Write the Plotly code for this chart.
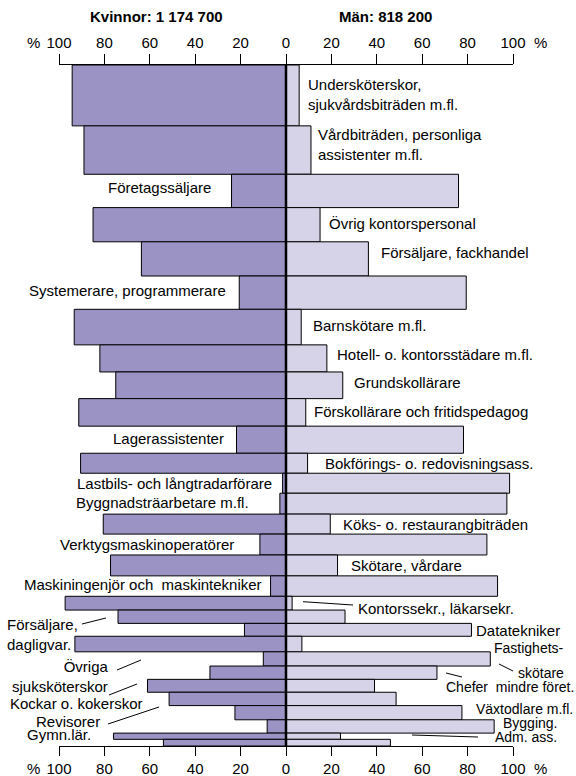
import numpy as np
import plotly.graph_objects as go

# De 30 största yrkena, andel kvinnor och män (%)
yrken = [
    "Undersköterskor,<br>sjukvårdsbiträden m.fl.",
    "Vårdbiträden, personliga<br>assistenter m.fl.",
    "Företagssäljare",
    "Övrig kontorspersonal",
    "Försäljare, fackhandel",
    "Systemerare, programmerare",
    "Barnskötare m.fl.",
    "Hotell- o. kontorsstädare m.fl.",
    "Grundskollärare",
    "Förskollärare och fritidspedagog",
    "Lagerassistenter",
    "Bokförings- o. redovisningsass.",
    "Lastbils- och långtradarförare",
    "Byggnadsträarbetare m.fl.",
    "Köks- o. restaurangbiträden",
    "Verktygsmaskinoperatörer",
    "Skötare, vårdare",
    "Maskiningenjör och  maskintekniker",
    "Kontorssekr., läkarsekr.",
    "Försäljare,<br>dagligvar.",
    "Datatekniker",
    "Övriga<br>sjuksköterskor",
    "Fastighets-<br>skötare",
    "Chefer  mindre föret.",
    "Kockar o. kokerskor",
    "Revisorer",
    "Växtodlare m.fl.",
    "Bygging.",
    "Adm. ass.",
    "Gymn.lär.",
]
kvinnor = [94.2, 89, 24, 85, 63.7, 20.6, 93.3, 82, 75, 91.3, 21.8, 90.5, 1.5, 2.7, 80.5,
           11.5, 77.3, 6.8, 97.3, 74, 18.3, 93, 10, 33.5, 61, 51.5, 22.5, 8.3, 76, 54]
man = [5.8, 11, 76, 15, 36.3, 79.4, 6.7, 18, 25, 8.7, 78.2, 9.5, 98.5, 97.3, 19.5,
       88.5, 22.7, 93.2, 2.7, 26, 81.7, 7, 90, 66.5, 39, 48.5, 77.5, 91.7, 24, 46]
# antal sysselsatta, tusental (styr stapelns tjocklek)
antal = [137, 109, 75, 77, 77, 75, 80, 61, 60, 62, 61, 45, 45, 47, 45, 47, 47, 46,
         31, 30, 29, 35, 32, 30, 29, 30, 32, 30, 14, 15]

ticks = [-100, -80, -60, -40, -20, 0, 20, 40, 60, 80, 100]
tick_text = ["100", "80", "60", "40", "20", "0", "20", "40", "60", "80", "100"]

FONT = "Liberation Sans, Arial, sans-serif"
FS = 15
W, H = 576, 776
L, R, T, B = 59, 63, 65, 30
pw = W - L - R
ph = H - T - B

antal = np.array(antal, dtype=float)
slut = np.cumsum(antal)
mitt = slut - antal / 2
total = slut[-1]


def paper(x, y):
    return (x - L) / pw, 1 - (y - T) / ph


fig = go.Figure()
fig.add_trace(go.Bar(
    y=mitt, x=[-v for v in kvinnor], width=antal, orientation="h",
    marker=dict(color="#9b93c4", line=dict(color="black", width=1)),
    hovertext=[y.replace("<br>", " ") for y in yrken], name="Kvinnor"))
fig.add_trace(go.Bar(
    y=mitt, x=man, width=antal, orientation="h",
    marker=dict(color="#d6d2e8", line=dict(color="black", width=1)),
    hovertext=[y.replace("<br>", " ") for y in yrken], name="Män"))
# osynlig trace för övre axeln
fig.add_trace(go.Scatter(x=[0], y=[0], xaxis="x2", mode="markers",
                         marker=dict(opacity=0), showlegend=False, hoverinfo="skip"))

# etiketter vid staplarna (sida, xshift, yshift)
placering = [
    ("r", 8, 1), ("r", 6, 6), ("l", -20, 3), ("r", 8, 1), ("r", 12, 6),
    ("l", -12, 2), ("r", 11, 2), ("r", 9, 4), ("r", 10, 3), ("r", 7, 1),
    ("l", -12, 1), ("r", 16, 0), ("l", -10, 0), ("l", -30, 1), ("r", 12, 0),
    ("l", -25, 0), ("r", 12, 0), ("l", -8, 2),
]
ann = []
for i, (sida, dx, dy) in enumerate(placering):
    if sida == "r":
        ann.append(dict(x=man[i], y=mitt[i], text=yrken[i], xanchor="left",
                        xshift=dx, yshift=dy, align="left"))
    else:
        ann.append(dict(x=-kvinnor[i], y=mitt[i], text=yrken[i], xanchor="right",
                        xshift=dx, yshift=dy, align="right"))

# trånga etiketter längst ner: (yrke, radbit, x px, y px, ankare, storlek)
fria = [
    (18, None, 357, 608, "left", 15), (19, None, 6, 634, "left", 15),
    (20, None, 475, 630, "left", 15), (21, None, 110, 676, "right", 15),
    (22, 0, 565, 648, "right", 14), (22, 1, 565, 673, "right", 14),
    (23, None, 575, 687, "right", 14), (24, None, 9, 703, "left", 15),
    (25, None, 35, 721, "left", 15), (26, None, 574, 709, "right", 14),
    (27, None, 558, 723, "right", 14), (28, None, 558, 737, "right", 14),
    (29, None, 26, 734, "left", 15),
]
for i, del_, x, y, anc, fs in fria:
    txt = yrken[i] if del_ is None else yrken[i].split("<br>")[del_]
    px_, py_ = paper(x, y)
    ann.append(dict(x=px_, y=py_, xref="paper", yref="paper", text=txt,
                    xanchor=anc, align=anc, yanchor="middle",
                    font=dict(family=FONT, size=fs, color="black")))

for a in ann:
    a.setdefault("xref", "x")
    a.setdefault("yref", "y")
    a.setdefault("font", dict(family=FONT, size=FS, color="black"))
    a["showarrow"] = False
    a["borderpad"] = 0

# rubriker och procenttecken
for txt, x, y in [("<b>Kvinnor: 1 174 700</b>", 156, 17), ("<b>Män: 818 200</b>", 385, 17),
                  ("%", 33, 43), ("%", 540, 43), ("%", 33, 768), ("%", 540, 768)]:
    px_, py_ = paper(x, y)
    ann.append(dict(x=px_, y=py_, xref="paper", yref="paper", text=txt, showarrow=False,
                    xanchor="center", yanchor="middle",
                    font=dict(family=FONT, size=FS, color="black")))

# ledarlinjer
linjer = [
    (303, 601.7, 353, 605), (82, 624, 106, 618), (117, 670, 141, 660),
    (109, 695, 137, 684), (108, 724, 159, 707), (499, 664, 513, 671),
    (446, 673, 462, 677), (412, 735, 478, 737),
]
shapes = []
for x0, y0, x1, y1 in linjer:
    a0, b0 = paper(x0, y0)
    a1, b1 = paper(x1, y1)
    shapes.append(dict(type="line", xref="paper", yref="paper", x0=a0, y0=b0, x1=a1, y1=b1,
                       line=dict(color="black", width=1)))
shapes.append(dict(type="line", xref="x", yref="paper", x0=0, x1=0, y0=0, y1=1,
                   line=dict(color="black", width=2.5)))

axel = dict(range=[-100, 100], tickvals=ticks, ticktext=tick_text, ticks="outside",
            ticklen=9, tickwidth=1, tickcolor="black", showline=True, linecolor="black",
            linewidth=1, showgrid=False, zeroline=False, automargin=False,
            tickfont=dict(family=FONT, size=FS, color="black"), fixedrange=True)

fig.update_layout(
    width=W, height=H,
    margin=dict(l=L, r=R, t=T, b=B, autoexpand=False),
    paper_bgcolor="white", plot_bgcolor="white",
    barmode="overlay", showlegend=False,
    xaxis=axel,
    xaxis2=dict(axel, overlaying="x", side="top", ticklen=10),
    yaxis=dict(range=[total, 0], visible=False, fixedrange=True, automargin=False),
    annotations=ann, shapes=shapes,
    font=dict(family=FONT, size=FS, color="black"),
)

fig.write_html("out.html", config={"displayModeBar": False},
               post_script="document.body.style.margin='0';document.body.style.overflow='hidden';")
